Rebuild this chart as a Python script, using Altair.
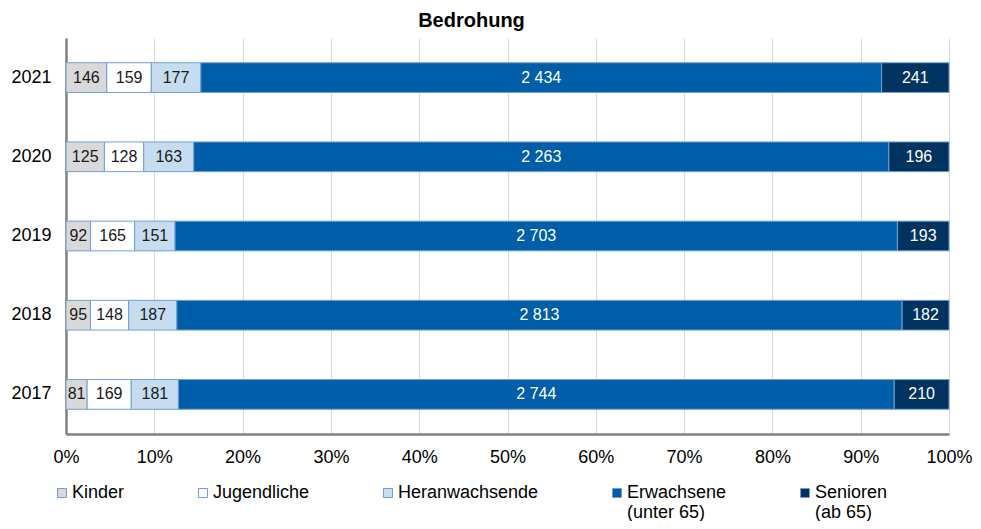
import altair as alt
import pandas as pd

years = ["2021", "2020", "2019", "2018", "2017"]
groups = ["Kinder", "Jugendliche", "Heranwachsende", "Erwachsene\n(unter 65)", "Senioren\n(ab 65)"]
kinder = [146, 125, 92, 95, 81]
jugendliche = [159, 128, 165, 148, 169]
heranwachsende = [177, 163, 151, 187, 181]
erwachsene = [2434, 2263, 2703, 2813, 2744]
senioren = [241, 196, 193, 182, 210]
colors = ["#d9d9d9", "#ffffff", "#c6ddf0", "#005ea8", "#003360"]
text_colors = ["#1a1a1a", "#1a1a1a", "#1a1a1a", "#ffffff", "#ffffff"]

series = [kinder, jugendliche, heranwachsende, erwachsene, senioren]
rows = []
for i, y in enumerate(years):
    vals = [s[i] for s in series]
    tot = sum(vals)
    cum = 0
    for g, v, tc in zip(groups, vals, text_colors):
        start = cum / tot
        cum += v
        end = cum / tot
        rows.append({"year": y, "group": g, "value": v,
                     "start": start, "end": end, "mid": (start + end) / 2,
                     "label": f"{v:,}".replace(",", " "), "tcolor": tc})
df = pd.DataFrame(rows)

FONT = "Liberation Sans"

yenc = alt.Y("year:N", sort=years, title=None,
             scale=alt.Scale(paddingInner=0.625, paddingOuter=0.3125),
             axis=alt.Axis(labelFontSize=18, labelColor="#000000", labelFont=FONT,
                           ticks=False, labelPadding=15, domainColor="#808080",
                           domainWidth=2.5, grid=False))

bars = alt.Chart(df).mark_bar(stroke="#6f9fd6", strokeWidth=1).encode(
    x=alt.X("start:Q", scale=alt.Scale(domain=[0, 1], nice=False), title=None,
            axis=alt.Axis(format=".0%", values=[i / 10 for i in range(11)],
                          labelFontSize=18, labelColor="#000000", labelFont=FONT,
                          ticks=False, labelPadding=14, domainColor="#808080",
                          domainWidth=2.5, grid=True, gridColor="#d9d9d9",
                          gridWidth=1, labelFlush=False)),
    x2="end:Q",
    y=yenc,
    fill=alt.Fill("group:N", sort=groups,
                  scale=alt.Scale(domain=groups, range=colors),
                  legend=alt.Legend(title=None, orient="none", legendX=-13, legendY=446,
                                    direction="horizontal", columns=5,
                                    symbolType="square", symbolSize=81,
                                    symbolStrokeColor="#6f9fd6", symbolStrokeWidth=1,
                                    labelFontSize=18, labelFont=FONT, labelColor="#000000",
                                    labelExpr="split(indexof(datum.label, '\\n') < 0 ? datum.label + '\\n ' : datum.label, '\\n')",
                                    labelBaseline="middle", labelOffset=1,
                                    columnPadding=69, labelLimit=300)),
)

labels = alt.Chart(df).mark_text(fontSize=16, font=FONT, baseline="middle").encode(
    x=alt.X("mid:Q"),
    y=alt.Y("year:N", sort=years),
    text="label:N",
    color=alt.Color("tcolor:N", scale=None),
)

chart = alt.layer(bars, labels).properties(
    width=883, height=396,
    title=alt.TitleParams("Bedrohung", fontSize=20, font=FONT, fontWeight="bold",
                          color="#000000", anchor="middle", offset=7, dx=-36),
    autosize=alt.AutoSizeParams(type="none"),
    padding={"left": 58, "top": 30, "right": 24, "bottom": 87},
).configure_view(stroke=None)

chart.save("out.html", embed_options={"renderer": "svg", "actions": False})
